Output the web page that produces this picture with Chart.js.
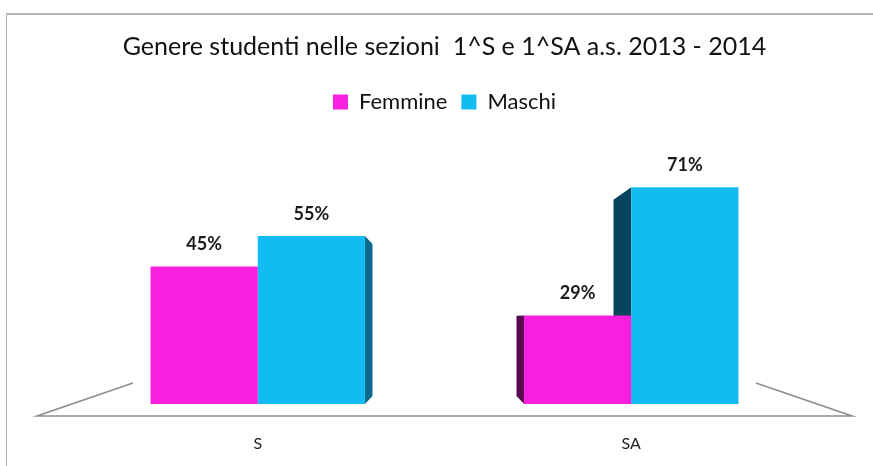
<!DOCTYPE html>
<html>
<head>
<meta charset="utf-8">
<script src="https://cdn.jsdelivr.net/npm/chart.js@4/dist/chart.umd.min.js"></script>
<style>
  body { margin: 0; background: #fff; overflow: hidden; }
  #frame { position: absolute; left: 6px; top: 13px; right: -10px; bottom: -10px;
           border-left: 1px solid #b4b4b4; border-top: 2px solid #b4b4b4; }
  #wrap { position: absolute; left: 0; top: 0; width: 873px; height: 466px; }
</style>
</head>
<body>
<div id="frame"></div>
<div id="wrap"><canvas id="mycanvas"></canvas></div>
<script>
var sections = ['S', 'SA'];
var femmine = [45, 29];
var maschi = [55, 71];

var pink = '#f81fde';
var cyan = '#12bbf2';

// perspective: back edges shrink toward a vanishing point in the middle
var depth = 0.095;

var fakeDepth = {
  id: 'fakeDepth',
  beforeDatasetsDraw: function(chart) {
    var c = chart.ctx, a = chart.chartArea;
    var vx = (a.left + a.right) / 2, vy = a.bottom - 84;
    var base = chart.scales.y.getPixelForValue(0);

    // floor
    c.save();
    c.strokeStyle = '#8e8e8e';
    c.lineWidth = 1.6;
    var fy = base + 12, fl = a.left - 34, fr = a.right + 34;
    c.beginPath();
    c.moveTo(fl + 96, fy - 33); c.lineTo(fl, fy); c.lineTo(fr, fy); c.lineTo(fr - 96, fy - 33);
    c.stroke();

    // side faces
    var faces = [
      { ds: 1, i: 0, side: 'right', color: '#0b6a8e' },
      { ds: 1, i: 1, side: 'left', color: '#07445d' },
      { ds: 0, i: 1, side: 'left', color: '#5a0b50' }
    ];
    faces.forEach(function(f) {
      var bar = chart.getDatasetMeta(f.ds).data[f.i];
      var ex = f.side === 'right' ? bar.x + bar.width / 2 : bar.x - bar.width / 2;
      var top = bar.y, bot = base;
      var bx = ex + depth * (vx - ex);
      c.fillStyle = f.color;
      c.beginPath();
      c.moveTo(ex, top);
      c.lineTo(bx, top + depth * (vy - top));
      c.lineTo(bx, bot + depth * (vy - bot));
      c.lineTo(ex, bot);
      c.closePath();
      c.fill();
    });
    c.restore();
  },
  afterDatasetsDraw: function(chart) {
    var c = chart.ctx;
    c.save();
    c.font = 'bold 18px Lato';
    c.fillStyle = '#1a1a1a';
    c.textAlign = 'center';
    c.textBaseline = 'middle';
    chart.data.datasets.forEach(function(ds, d) {
      chart.getDatasetMeta(d).data.forEach(function(bar, i) {
        c.fillText(ds.data[i] + '%', bar.x, bar.y - 22);
      });
    });
    c.restore();
  }
};

var ctx = document.getElementById('mycanvas');
new Chart(ctx, {
  type: 'bar',
  data: {
    labels: sections,
    datasets: [
      { label: 'Femmine', data: femmine, backgroundColor: pink },
      { label: 'Maschi', data: maschi, backgroundColor: cyan }
    ]
  },
  options: {
    responsive: true,
    maintainAspectRatio: false,
    animation: false,
    layout: { padding: { left: 71, right: 55, top: 0, bottom: 15 } },
    datasets: { bar: { barPercentage: 1, categoryPercentage: 0.574 } },
    plugins: {
      title: {
        display: true,
        text: 'Genere studenti nelle sezioni  1^S e 1^SA a.s. 2013 - 2014',
        color: '#111',
        font: { family: 'Lato', size: 25, weight: 'normal' },
        padding: { top: 32, bottom: 15 }
      },
      legend: {
        labels: {
          color: '#111',
          font: { family: 'Lato', size: 22 },
          boxWidth: 15, boxHeight: 15,
          padding: 14
        }
      },
      tooltip: { enabled: false }
    },
    scales: {
      x: {
        grid: { display: false, drawTicks: false },
        border: { display: false },
        ticks: { color: '#222', font: { family: 'Lato', size: 16 }, padding: 30 },
        afterFit: function(scale) { scale.height = 47; }
      },
      y: { display: false, min: 0, max: 92 }
    }
  },
  plugins: [fakeDepth]
});
</script>
</body>
</html>
